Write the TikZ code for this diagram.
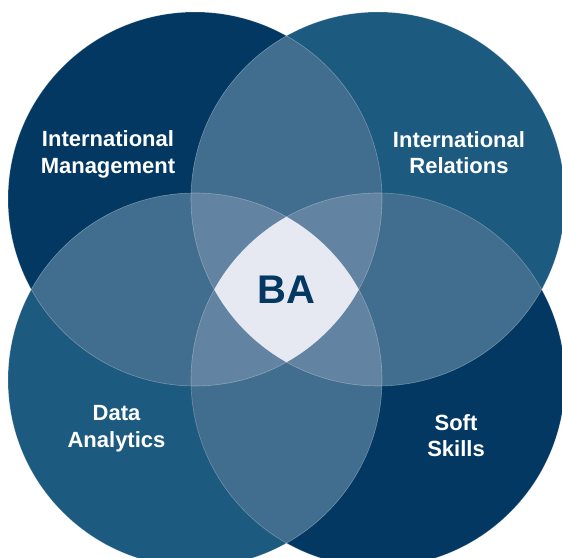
\documentclass[tikz,border=0pt]{standalone}
\usepackage{fontspec}
\setmainfont{Liberation Sans}
\begin{document}
\begin{tikzpicture}[x=1pt,y=1pt,
  lbl/.style={text=white, align=center, inner sep=0pt,
    font=\bfseries\fontsize{22}{26.5}\selectfont},
  rim/.style={draw=white, draw opacity=0.3, line width=0.6pt}]
\definecolor{navy}{HTML}{033862}
\definecolor{steel}{HTML}{1D5A80}
\definecolor{lenscol}{HTML}{416D8F}
\definecolor{triplecol}{HTML}{6283A1}
\definecolor{centercol}{HTML}{E6E9F1}
\useasboundingbox (0,0) rectangle (562,557);
\clip (0,0) rectangle (562,557);
\def\R{187}
\coordinate (tl) at (195,358);
\coordinate (tr) at (378,358);
\coordinate (bl) at (195,177);
\coordinate (br) at (378,177);
% base circles
\fill[navy]  (tl) circle (\R);
\fill[steel] (tr) circle (\R);
\fill[steel] (bl) circle (\R);
\fill[navy]  (br) circle (\R);
% pairwise overlaps
\foreach \a/\b in {tl/tr, tl/bl, tr/br, bl/br, tl/br, tr/bl}{
  \begin{scope}
    \clip (\a) circle (\R);
    \fill[lenscol] (\b) circle (\R);
  \end{scope}
}
% triple overlaps
\foreach \a/\b/\c in {tl/tr/bl, tl/tr/br, tl/bl/br, tr/bl/br}{
  \begin{scope}
    \clip (\a) circle (\R);
    \clip (\b) circle (\R);
    \fill[triplecol] (\c) circle (\R);
  \end{scope}
}
% center
\begin{scope}
  \clip (tl) circle (\R);
  \clip (tr) circle (\R);
  \clip (bl) circle (\R);
  \fill[centercol] (br) circle (\R);
\end{scope}
% faint rims
\foreach \p in {tl,tr,bl,br}{ \path[rim] (\p) circle (\R); }
% labels
\node[lbl] (im) at (108,402.5) {International\\Management};
\node[lbl] (ir) at (459,404.5) {International\\Relations};
\node[lbl, font=\bfseries\fontsize{22}{27}\selectfont] (da) at (116.5,128.5) {Data\\Analytics};
\node[lbl, font=\bfseries\fontsize{22}{26.4}\selectfont] (ss) at (456,121.5) {Soft\\Skills};
\node[inner sep=0pt, anchor=base, text=navy,
  font=\bfseries\fontsize{40}{44}\selectfont] (ba) at (286.5,253) {BA};
\end{tikzpicture}
\end{document}
